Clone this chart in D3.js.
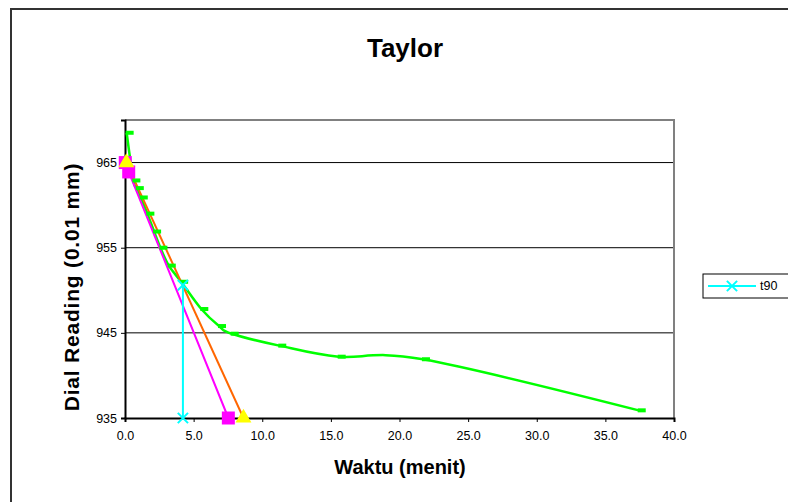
<!DOCTYPE html>
<html>
<head>
<meta charset="utf-8">
<script src="https://cdn.jsdelivr.net/npm/d3@7"></script>
<style>
  body { margin: 0; background: #fff; }
  svg { font-family: "Liberation Sans", Arial, sans-serif; }
</style>
</head>
<body>
<svg id="chart"></svg>
<script>
// measured settlement readings (green, dash markers)
const readTime = [0.12, 0.61, 0.86, 1.15, 1.63, 2.12, 2.58, 3.19, 4.09, 5.56, 6.85, 7.77, 11.24, 15.57, 21.71, 37.43];
const readDial = [968.5, 962.9, 962.0, 960.9, 959.0, 956.9, 955.0, 952.9, 951.0, 947.8, 945.8, 944.9, 943.5, 942.2, 941.9, 935.9];

// construction lines
const magentaTime = [0.02, 0.27, 7.53];
const magentaDial = [965.0, 963.9, 935.0];
const orangeTime = [0.1, 8.63];
const orangeDial = [965.0, 935.0];
const t90Time = [4.22, 4.22];
const t90Dial = [950.6, 935.0];

const xTicks = [0, 5, 10, 15, 20, 25, 30, 35, 40];
const yTicks = [935, 945, 955, 965];

const width = 788;
const height = 502;
const plot = { left: 125, right: 674, top: 120, bottom: 418 };

const svg = d3.select("#chart").attr("width", width).attr("height", height);

// outer chart border (runs off the right and bottom edges)
svg.append("rect")
  .attr("x", 11).attr("y", 9)
  .attr("width", 800).attr("height", 520)
  .attr("fill", "#fff")
  .attr("stroke", "#333").attr("stroke-width", 2);

const x = d3.scaleLinear().domain([0, 40]).range([plot.left, plot.right]);
const y = d3.scaleLinear().domain([935, 970]).range([plot.bottom, plot.top]);

// title
svg.append("text")
  .attr("x", 405).attr("y", 57)
  .attr("text-anchor", "middle")
  .style("font-size", "26px").style("font-weight", "bold")
  .text("Taylor");

// gridlines
svg.append("g")
  .selectAll("line")
  .data(yTicks.filter((d) => d !== 935))
  .enter()
  .append("line")
  .attr("x1", plot.left).attr("x2", plot.right)
  .attr("y1", (d) => y(d)).attr("y2", (d) => y(d))
  .attr("stroke", "#000").attr("stroke-width", 1);

// plot area border top / right in grey
svg.append("path")
  .attr("d", `M${plot.left},${plot.top}H${plot.right}V${plot.bottom}`)
  .attr("fill", "none")
  .attr("stroke", "#808080").attr("stroke-width", 2);

// axes
const xAxis = svg.append("g")
  .attr("transform", `translate(0,${plot.bottom})`)
  .call(d3.axisBottom(x).tickValues(xTicks).tickFormat(d3.format(".1f")).tickSize(4).tickPadding(9));
const yAxis = svg.append("g")
  .attr("transform", `translate(${plot.left},0)`)
  .call(d3.axisLeft(y).tickValues(yTicks).tickSize(4).tickPadding(4));

[xAxis, yAxis].forEach((g) => {
  g.select(".domain").attr("stroke", "#000").attr("stroke-width", 2);
  g.selectAll(".tick line").attr("stroke", "#000");
  g.selectAll(".tick text")
    .attr("fill", "#000")
    .style("font-family", "'Liberation Sans', Arial, sans-serif")
    .style("font-size", "12.5px");
});

// axis titles
svg.append("text")
  .attr("x", 400).attr("y", 474)
  .attr("text-anchor", "middle")
  .style("font-size", "20px").style("font-weight", "bold")
  .text("Waktu (menit)");

svg.append("text")
  .attr("transform", "translate(79,287) rotate(-90)")
  .attr("text-anchor", "middle")
  .style("font-size", "21px").style("font-weight", "bold")
  .style("letter-spacing", "0.8px")
  .text("Dial Reading (0.01 mm)");

const toPts = (xs, ys) => xs.map((d, i) => ({ t: d, v: ys[i] }));
const readings = toPts(readTime, readDial);
const magenta = toPts(magentaTime, magentaDial);
const orange = toPts(orangeTime, orangeDial);
const t90 = toPts(t90Time, t90Dial);

const straight = d3.line().x((d) => x(d.t)).y((d) => y(d.v));
const smooth = d3.line().x((d) => x(d.t)).y((d) => y(d.v)).curve(d3.curveCardinal);

const lines = svg.append("g");
lines.append("path").datum(readings).attr("d", smooth)
  .attr("fill", "none").attr("stroke", "#00ff00").attr("stroke-width", 2.5);
lines.append("path").datum(magenta).attr("d", straight)
  .attr("fill", "none").attr("stroke", "#ff00ff").attr("stroke-width", 2);
lines.append("path").datum(orange).attr("d", straight)
  .attr("fill", "none").attr("stroke", "#ff6600").attr("stroke-width", 2);
lines.append("path").datum(t90).attr("d", straight)
  .attr("fill", "none").attr("stroke", "#00ffff").attr("stroke-width", 2);

// markers
svg.append("g")
  .selectAll("rect")
  .data(readings)
  .enter()
  .append("rect")
  .attr("x", (d) => x(d.t) - 1)
  .attr("y", (d) => y(d.v) - 2)
  .attr("width", 8).attr("height", 4)
  .attr("fill", "#00ff00");

svg.append("g")
  .selectAll("rect")
  .data(magenta)
  .enter()
  .append("rect")
  .attr("x", (d) => x(d.t) - 6.5)
  .attr("y", (d) => y(d.v) - 6.5)
  .attr("width", 13).attr("height", 13)
  .attr("fill", "#ff00ff");

const tri = d3.symbol().type(d3.symbolTriangle).size(110);
svg.append("g")
  .selectAll("path")
  .data(orange)
  .enter()
  .append("path")
  .attr("d", tri)
  .attr("transform", (d) => `translate(${x(d.t)},${y(d.v)})`)
  .attr("fill", "#ffff00");

const cross = d3.symbol().type(d3.symbolX).size(70);
svg.append("g")
  .selectAll("path")
  .data(t90)
  .enter()
  .append("path")
  .attr("d", cross)
  .attr("transform", (d) => `translate(${x(d.t)},${y(d.v)})`)
  .attr("fill", "none")
  .attr("stroke", "#00ffff").attr("stroke-width", 2);

// legend
const legend = svg.append("g").attr("transform", "translate(703,274)");
legend.append("rect")
  .attr("width", 100).attr("height", 24)
  .attr("fill", "#fff").attr("stroke", "#000").attr("stroke-width", 1);
legend.append("line")
  .attr("x1", 5).attr("x2", 53).attr("y1", 12).attr("y2", 12)
  .attr("stroke", "#00ffff").attr("stroke-width", 2);
legend.append("path")
  .attr("d", cross)
  .attr("transform", "translate(29,12)")
  .attr("fill", "none")
  .attr("stroke", "#00ffff").attr("stroke-width", 2);
legend.append("text")
  .attr("x", 57).attr("y", 16)
  .style("font-size", "12.5px")
  .text("t90");
</script>
</body>
</html>
